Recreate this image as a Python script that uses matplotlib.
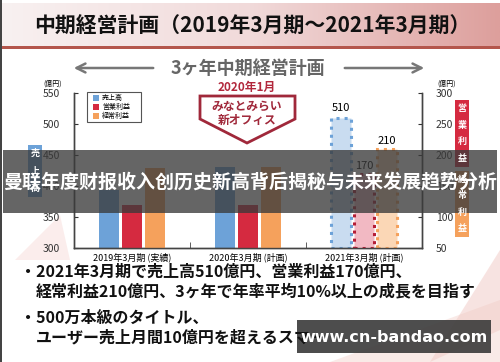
import matplotlib
matplotlib.use("Agg")
import matplotlib.pyplot as plt
import numpy as np
from matplotlib.patches import Rectangle, Polygon
from matplotlib.colors import LinearSegmentedColormap

plt.rcParams['font.family'] = ['Noto Sans CJK JP', 'DejaVu Sans']

# data
categories = ['2019年3月期 (実績)', '2020年3月期 (計画)', '2021年3月期 (計画)']
sales = [393, 430, 510]          # 売上高 (left axis)
op_profit = [119, 120, 170]      # 営業利益 (right axis)
ord_profit = [179, 180, 210]     # 経常利益 (right axis)
planned = [False, False, True]
value_labels = {0: '510', 1: '170', 2: '210'}
left_ticks = [300, 350, 400, 450, 500, 550]
right_ticks = [50, 100, 150, 200, 250, 300]
series_names = ['売上高', '営業利益', '経常利益']

blue, red, orange = '#6da2d8', '#d52a40', '#f5a15c'
blue_l, red_l, orange_l = '#c9dcf0', '#f2b9c3', '#fbd7b6'

W, H = 500, 362
fig = plt.figure(figsize=(5, 3.62), dpi=100)

# background layer in pixel coords
bg = fig.add_axes([0, 0, 1, 1], zorder=-1)
bg.set_xlim(0, W)
bg.set_ylim(H, 0)
bg.axis('off')
cmap = LinearSegmentedColormap.from_list('band', ['#f8f1f1', '#f1dada', '#dd9f9c'])
grad = np.linspace(0, 1, 256).reshape(1, -1)
bg.imshow(grad, cmap=cmap, extent=(0, W, 47, 3), aspect='auto')
bg.add_patch(Rectangle((0, 46), W, 3, color='#b4564c', lw=0))
bg.add_patch(Rectangle((0, 0), 2, H, color='#444444', lw=0))
# faint swooshes
bg.add_patch(Polygon([(330, 362), (500, 300), (500, 362)], color='#f6dcd8', alpha=0.6, lw=0))
bg.add_patch(Polygon([(430, 362), (500, 250), (500, 330)], color='#f1c9c4', alpha=0.5, lw=0))
bg.add_patch(Polygon([(15, 260), (60, 215), (70, 260)], color='#fbe9e8', alpha=0.8, lw=0))

bg.text(252, 26, '中期経営計画（2019年3月期～2021年3月期）', fontsize=15, fontweight='bold',
        color='#111111', ha='center', va='center')
bg.text(248, 68, '3ヶ年中期経営計画', fontsize=13, fontweight='bold', color='#666666',
        ha='center', va='center')
bg.annotate('', xy=(71, 68), xytext=(156, 68),
            arrowprops=dict(arrowstyle='->', color='#777777', lw=1.8, mutation_scale=16))
bg.annotate('', xy=(427, 68), xytext=(342, 68),
            arrowprops=dict(arrowstyle='->', color='#777777', lw=1.8, mutation_scale=16))

# chart
ax = fig.add_axes([74 / W, 1 - 248 / H, 348 / W, 155 / H], zorder=1)
ax.patch.set_alpha(0)
ax2 = ax.twinx()
ax.set_xlim(-0.5, 2.5)
ax.set_ylim(left_ticks[0], left_ticks[-1])
ax2.set_ylim(right_ticks[0], right_ticks[-1])

x = np.arange(len(categories))
bw, off = 0.17, 0.2
for i in x:
    if planned[i]:
        ax.bar(i - off, sales[i] - 300, bw, bottom=300, color=blue_l, edgecolor=blue,
               linestyle=':', linewidth=2.2)
        ax2.bar(i, op_profit[i] - 50, bw, bottom=50, color=red_l, edgecolor='#b51d35',
                linestyle=':', linewidth=2.2)
        ax2.bar(i + off, ord_profit[i] - 50, bw, bottom=50, color=orange_l, edgecolor=orange,
                linestyle=':', linewidth=2.2)
        ax.text(i - off, sales[i] + 8, value_labels[0], ha='center', va='bottom', fontsize=8)
        ax2.text(i, op_profit[i] + 4, value_labels[1], ha='center', va='bottom', fontsize=8)
        ax2.text(i + off, ord_profit[i] + 4, value_labels[2], ha='center', va='bottom', fontsize=8)
    else:
        ax.bar(i - off, sales[i] - 300, bw, bottom=300, color=blue)
        ax2.bar(i, op_profit[i] - 50, bw, bottom=50, color=red)
        ax2.bar(i + off, ord_profit[i] - 50, bw, bottom=50, color=orange)

for a in (ax, ax2):
    a.spines['top'].set_visible(False)
    for s in a.spines.values():
        s.set_color('#444444')
        s.set_linewidth(1)
ax.set_yticks(left_ticks)
ax2.set_yticks(right_ticks)
ax.tick_params(axis='y', direction='in', length=3, labelsize=7.5, pad=10, colors='#333333')
ax2.tick_params(axis='y', direction='in', length=3, labelsize=7.5, pad=10, colors='#333333')
ax.set_xticks(x)
ax.set_xticklabels(categories, fontsize=6.5)
ax.tick_params(axis='x', length=0, pad=3)
ax.set_xticks([0.5, 1.5], minor=True)
ax.tick_params(axis='x', which='minor', direction='in', length=4, color='#444444')
ax.text(-0.035, 1.06, '(億円)', transform=ax.transAxes, fontsize=5, ha='right', va='center')
ax.text(1.07, 1.06, '(億円)', transform=ax.transAxes, fontsize=5, ha='center', va='center')

# overlay layer in pixel coords
ov = fig.add_axes([0, 0, 1, 1], zorder=5)
ov.set_xlim(0, W)
ov.set_ylim(H, 0)
ov.axis('off')
ov.patch.set_alpha(0)

# legend box
ov.add_patch(Rectangle((87, 92), 54, 30, fill=False, ec='#555555', lw=0.8))
for k, (name, col) in enumerate(zip(series_names, [blue, red, orange])):
    yy = 98 + k * 9
    ov.add_patch(Rectangle((93, yy - 3), 6, 6, color=col, lw=0))
    ov.text(102, yy, name, fontsize=5, va='center', ha='left')

# callout
ov.text(247, 87, '2020年1月', fontsize=8.5, fontweight='bold', color='#b2283c',
        ha='center', va='center')
ov.add_patch(Polygon([(200, 96), (295, 96), (295, 119), (247, 143), (200, 119)],
                     closed=True, fc='white', ec='#a0283a', lw=2))
ov.text(247, 106, 'みなとみらい', fontsize=8.5, fontweight='bold', color='#a0283a',
        ha='center', va='center')
ov.text(247, 120, '新オフィス', fontsize=8.5, fontweight='bold', color='#a0283a',
        ha='center', va='center')

# side labels
side = [(28, 145, 14, 52, blue, '売上高'), (455, 100, 14, 67, red, '営業利益'),
        (455, 171, 14, 66, orange, '経常利益')]
for sx, sy, sw, sh, col, name in side:
    ov.add_patch(Rectangle((sx, sy), sw, sh, color=col, lw=0))
    n = len(name)
    for j, ch in enumerate(name):
        ov.text(sx + sw / 2, sy + sh * (j + 0.5) / n, ch, fontsize=6.5, fontweight='bold',
                color='white', ha='center', va='center')

# bullets
ov.text(20, 272, '・2021年3月期で売上高510億円、営業利益170億円、', fontsize=11.5,
        fontweight='bold', color='#111111', va='center')
ov.text(36, 291, '経常利益210億円、3ヶ年で年率平均10%以上の成長を目指す', fontsize=11.5,
        fontweight='bold', color='#111111', va='center')
ov.text(20, 318, '・500万本級のタイトル、', fontsize=11.5, fontweight='bold', color='#111111',
        va='center')
ov.text(36, 337, 'ユーザー売上月間10億円を超えるスマー', fontsize=11.5, fontweight='bold',
        color='#111111', va='center')

# dark banner with Chinese headline
ov.add_patch(Rectangle((3, 150), 494, 63, color='#3a3a3a', alpha=0.78, lw=0))
ov.text(250, 182, '曼联年度财报收入创历史新高背后揭秘与未来发展趋势分析', fontsize=13.7,
        fontweight='bold', color='white', ha='center', va='center',
        family=['Noto Sans CJK SC', 'DejaVu Sans'])

# watermark
ov.add_patch(Rectangle((297, 320), 194, 33, color='#3a3a3a', alpha=0.9, lw=0))
ov.text(394, 337, 'www.cn-bandao.com', fontsize=11.5, fontweight='bold', color='white',
        ha='center', va='center', family=['DejaVu Sans'])

fig.savefig('out.png', dpi=100)
